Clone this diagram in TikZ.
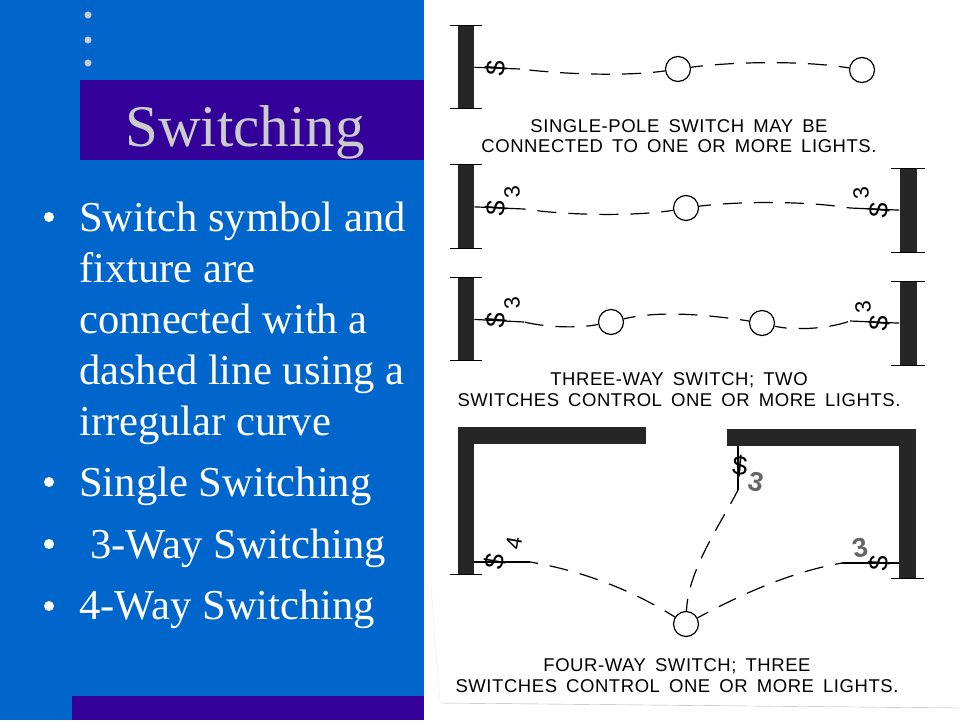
\documentclass[tikz,border=0pt]{standalone}
\usepackage{fontspec}
\usepackage{xcolor}
\usetikzlibrary{positioning,shapes.geometric}
\setmainfont{Liberation Serif}
\newfontfamily\letterfont[LetterSpace=3,WordSpace=1.6]{Liberation Sans}
\newfontfamily\markfont{Liberation Sans}
\definecolor{slideblue}{RGB}{0, 102, 204}
\definecolor{bandpurple}{RGB}{51, 0, 153}
\definecolor{titlegrey}{RGB}{204, 204, 204}
\definecolor{inkdark}{RGB}{38, 38, 38}
\tikzstyle{body} = [
    anchor=base west,
    inner sep=0pt,
    text=white,
    font=\fontsize{42.6}{50}\selectfont
]
\tikzstyle{bulletmark} = [
    circle,
    fill=white,
    inner sep=0pt,
    minimum size=10pt
]
\tikzstyle{dot} = [
    circle,
    fill=titlegrey,
    inner sep=0pt,
    minimum size=7pt
]
\tikzstyle{wall} = [
    rectangle,
    fill=inkdark,
    inner sep=0pt
]
\tikzstyle{lamp} = [
    circle,
    draw=black,
    fill=white,
    line width=1.2pt,
    inner sep=0pt,
    minimum size=25pt
]
\tikzstyle{wire} = [
    line width=1.2pt,
    draw=black
]
\tikzstyle{dashwire} = [
    line width=1.2pt,
    draw=black,
    dash pattern=on 19pt off 12pt,
    dash phase=7pt
]
\tikzstyle{sw} = [
    inner sep=0pt,
    font=\markfont\fontsize{27}{27}\selectfont
]
\tikzstyle{digit} = [
    inner sep=0pt,
    font=\markfont\fontsize{22}{22}\selectfont
]
\tikzstyle{patchdigit} = [
    inner sep=0pt,
    text=black!60,
    font=\markfont\bfseries\fontsize{27}{27}\selectfont
]
\tikzstyle{caption} = [
    anchor=base,
    inner sep=0pt,
    text=black,
    font=\letterfont\fontsize{18.5}{19}\selectfont
]
\begin{document}
\begin{tikzpicture}[x=1pt,y=-1pt]
    \useasboundingbox (0,0) rectangle (960,720);
    % slide panels
    \fill[slideblue] (0,0) rectangle (424,720);
    \fill[bandpurple] (80,80) rectangle (424,160);
    \fill[bandpurple] (72,696) rectangle (424,720);
    \draw[black!8] (431,587) -- (440,703);
    \draw[black!30] (440,703) -- (960,708);
    \foreach \y [count=\i] in {15,40,63} {
        \node[dot] (dot\i) at (88,\y) {};
    }
    \node[anchor=base, inner sep=0pt, text=titlegrey, font=\fontsize{59}{60}\selectfont]
        (title) at (245,146) {Switching};
    \foreach \y/\t [count=\i] in {
        231/Switch symbol and,
        282/fixture are,
        333/connected with a,
        384/dashed line using a,
        435/irregular curve,
        496/Single Switching,
        619/4-Way Switching
    } {
        \node[body] (line\i) at (79,\y) {\t};
    }
    \node[body] (lineWay) at (90,558) {3-Way Switching};
    \foreach \y [count=\i] in {217,482,544,606} {
        \node[bulletmark] (mark\i) at (49,\y) {};
    }
    % walls
    \foreach \n/\x/\y/\w/\h in {
        wallA/466/67/16.5/82,
        wallB/466/206.5/16.5/83,
        wallC/908/210.5/17/83,
        wallD/466/319/16.5/82,
        wallE/908/323.5/17/83,
        wallF/466/500.5/16.5/147,
        wallG/552/435.5/188/17,
        wallH/821.5/437.5/189/17,
        wallI/907.5/503.5/17/149
    } {
        \node[wall, minimum width=\w pt, minimum height=\h pt] (\n) at (\x,\y) {};
    }
    \foreach \n in {wallA,wallB,wallC,wallD,wallE} {
        \draw[wire] ([xshift=-8pt]\n.north west) -- ([xshift=8pt]\n.north east);
    }
    \foreach \n in {wallA,wallB,wallC,wallD,wallE,wallF,wallI} {
        \draw[wire] ([xshift=-8pt]\n.south west) -- ([xshift=8pt]\n.south east);
    }
    % lamps
    \foreach \n/\x/\y in {
        lampA/678/69, lampB/862/70,
        lampC/686/208,
        lampD/611/322, lampE/762/323,
        lampF/686/624
    } {
        \node[lamp] (\n) at (\x,\y) {};
    }
    % free ends of the solid stubs
    \coordinate (endA) at (520,69);
    \coordinate (endB) at (524,209);
    \coordinate (endC) at (850,208);
    \coordinate (endD) at (524,322);
    \coordinate (endE) at (850,321);
    \coordinate (endF) at (530,562);
    \coordinate (endG) at (738,490);
    \coordinate (endH) at (842,563);
    % wires
    \draw[wire] (wallA) -- (endA);
    \draw[wire] (wallB) -- (endB);
    \draw[wire] (wallC) -- (endC);
    \draw[wire] (wallD) -- (endD);
    \draw[wire] (wallE) -- (endE);
    \draw[wire] (wallF.east |- endF) -- (endF);
    \draw[wire] (wallH.south -| endG) -- (endG);
    \draw[wire] (wallI.west |- endH) -- (endH);
    \draw[dashwire] (lampA) .. controls (630,76) and (570,75) .. (endA);
    \draw[dashwire] (lampA) .. controls (730,62) and (800,60) .. (lampB);
    \draw[dashwire] (lampC) .. controls (640,216) and (570,216) .. (endB);
    \draw[dashwire] (lampC) .. controls (730,202) and (800,200) .. (endC);
    \draw[dashwire] (lampD) .. controls (580,328) and (550,328) .. (endD);
    \draw[dashwire] (lampD) .. controls (660,310) and (710,315) .. (lampE);
    \draw[dashwire] (lampE) .. controls (790,330) and (825,330) .. (endE);
    \draw[dashwire] (lampF) .. controls (640,595) and (590,572) .. (endF);
    \draw[dashwire] (lampF) .. controls (688,570) and (720,525) .. (endG);
    \draw[dashwire] (lampF) .. controls (740,595) and (790,572) .. (endH);
    % switch marks
    \foreach \n/\x/\y/\r in {
        swA/496/68/85,
        swB/496/208/85,
        swC/879/210/85,
        swD/496/320/85,
        swE/879/323/85,
        swF/495/562/80,
        swG/740/466/-5,
        swH/879/563/85
    } {
        \node[sw, rotate=\r] (\n) at (\x,\y) {\$};
    }
    \foreach \n/\x/\y/\r/\t in {
        digitA/512/192/95/3,
        digitB/861/193/95/3,
        digitC/512/303/95/3,
        digitD/863/307/95/3,
        digitE/514/543/80/4
    } {
        \node[digit, rotate=\r] (\n) at (\x,\y) {\t};
    }
    \node[patchdigit, rotate=-12] (digitF) at (756,482) {3};
    \node[patchdigit, rotate=12] (digitG) at (860,548) {3};
    % captions
    \foreach \n/\x/\y/\t in {
        capA/679/132/{SINGLE-POLE SWITCH MAY BE},
        capB/679/152/{CONNECTED TO ONE OR MORE LIGHTS.},
        capC/679/385/{THREE-WAY SWITCH; TWO},
        capD/679/406/{SWITCHES CONTROL ONE OR MORE LIGHTS.},
        capE/677/671/{FOUR-WAY SWITCH; THREE},
        capF/677/692/{SWITCHES CONTROL ONE OR MORE LIGHTS.}
    } {
        \node[caption] (\n) at (\x,\y) {\t};
    }
\end{tikzpicture}
\end{document}
